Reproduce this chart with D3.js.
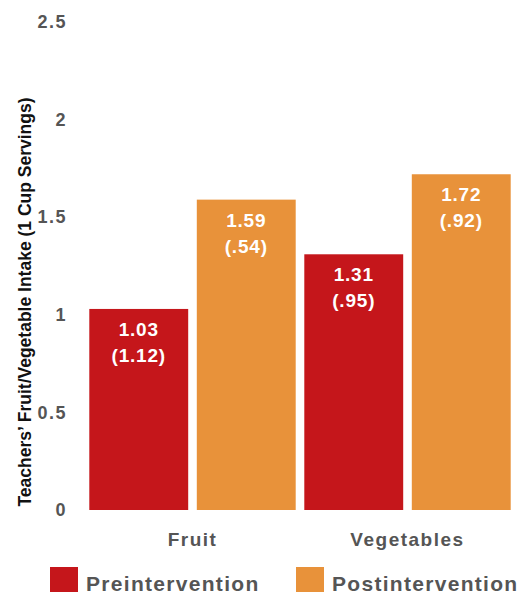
<!DOCTYPE html>
<html>
<head>
<meta charset="utf-8">
<script src="https://cdn.jsdelivr.net/npm/d3@7"></script>
<style>
  body { margin: 0; background: #fff; }
  text { font-family: "Liberation Sans", Arial, sans-serif; }
</style>
</head>
<body>
<div class="chart"></div>
<script>
const categories = ['Fruit', 'Vegetables']
const seriesNames = ['Preintervention', 'Postintervention']
const means = [[1.03, 1.59], [1.31, 1.72]]
const sds = ['(1.12)', '(.54)', '(.95)', '(.92)']
const yTicks = [0, 0.5, 1, 1.5, 2, 2.5]
const colors = ['#c5161b', '#e8923a']

let W = 520, H = 595
let svg = d3.select('.chart').append('svg')
    .attr('width', W)
    .attr('height', H)

let y = d3.scaleLinear().domain([0, 2.5]).range([510, 22])
let x0 = d3.scaleBand().domain(categories).range([85, 515]).padding(0)
let x1 = d3.scaleBand().domain(seriesNames).range([0, x0.bandwidth()])
    .paddingInner(0.08).paddingOuter(0.04)
let color = d3.scaleOrdinal().domain(seriesNames).range(colors)

// y axis, no line, only labels
let yAxis = d3.axisLeft(y).tickValues(yTicks).tickSize(0).tickPadding(0)
    .tickFormat(d => d)
let ga = svg.append('g').attr('transform', 'translate(67,0)').call(yAxis)
ga.select('.domain').remove()
ga.selectAll('text')
    .style('font-size', '18px')
    .style('font-weight', 'bold')
    .style('letter-spacing', '1.5px')
    .attr('fill', '#555')

svg.append('text')
    .attr('transform', 'translate(31,302) rotate(-90)')
    .attr('text-anchor', 'middle')
    .style('font-size', '17.5px')
    .style('font-weight', 'bold')
    .attr('fill', '#111')
    .text('Teachers\u2019 Fruit/Vegetable Intake (1 Cup Servings)')

let k = 0
categories.forEach((c, i) => {
    let g = svg.append('g').attr('transform', `translate(${x0(c)},0)`)
    seriesNames.forEach((s, j) => {
        let v = means[i][j]
        let bx = x1(s)
        g.append('rect')
            .attr('x', bx)
            .attr('y', y(v))
            .attr('width', x1.bandwidth())
            .attr('height', y(0) - y(v))
            .attr('fill', color(s))
        let cx = bx + x1.bandwidth() / 2
        g.append('text')
            .attr('x', cx)
            .attr('y', y(v) + 27)
            .attr('text-anchor', 'middle')
            .attr('fill', '#fff')
            .style('font-size', '19px')
            .style('font-weight', 'bold')
            .style('letter-spacing', '0.8px')
            .text(v.toFixed(2))
        g.append('text')
            .attr('x', cx)
            .attr('y', y(v) + 53)
            .attr('text-anchor', 'middle')
            .attr('fill', '#fff')
            .style('font-size', '19px')
            .style('font-weight', 'bold')
            .style('letter-spacing', '0.8px')
            .text(sds[k])
        k += 1
    })
    svg.append('text')
        .attr('x', x0(c) + x0.bandwidth() / 2)
        .attr('y', 546)
        .attr('text-anchor', 'middle')
        .attr('fill', '#555')
        .style('font-size', '19px')
        .style('font-weight', 'bold')
        .style('letter-spacing', '1.5px')
        .text(c)
})

// legend
let legX = [50, 296]
seriesNames.forEach((s, j) => {
    let lg = svg.append('g').attr('transform', `translate(${legX[j]},567)`)
    lg.append('rect')
        .attr('width', 28)
        .attr('height', 25)
        .attr('fill', color(s))
    lg.append('text')
        .attr('x', 36)
        .attr('y', 24)
        .attr('fill', '#555')
        .style('font-size', '21px')
        .style('font-weight', 'bold')
        .style('letter-spacing', '1.3px')
        .text(s)
})
</script>
</body>
</html>
